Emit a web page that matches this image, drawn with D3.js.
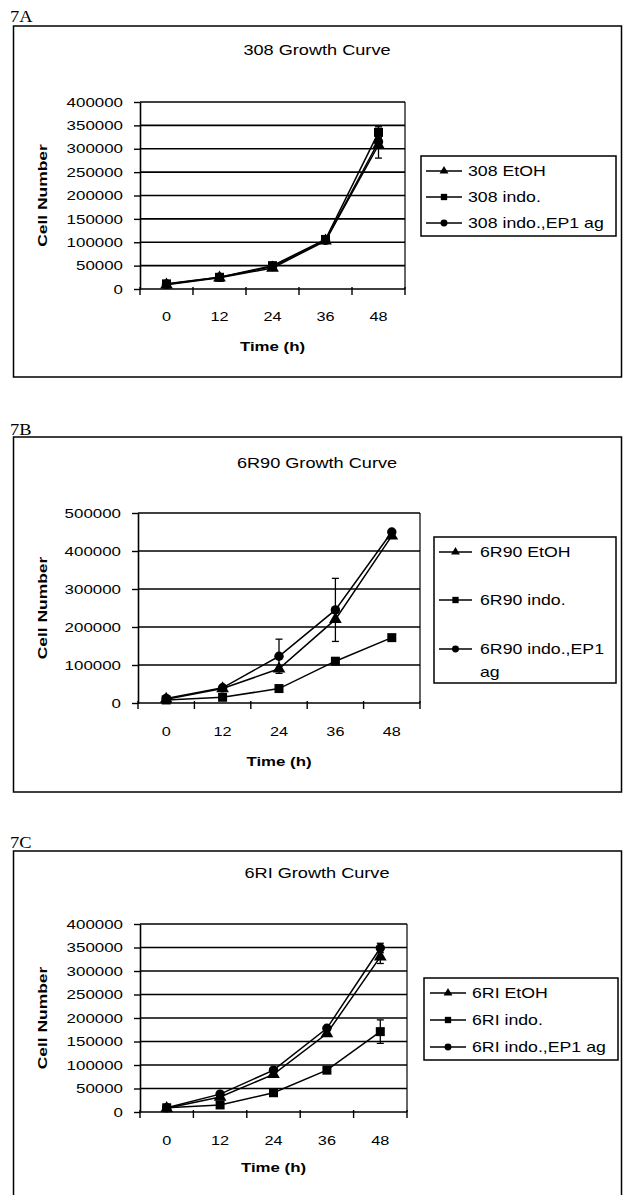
<!DOCTYPE html>
<html>
<head>
<meta charset="utf-8">
<script src="https://cdn.jsdelivr.net/npm/d3@7"></script>
<style>
  body { margin: 0; background: #fff; }
  svg { display: block; }
  text { font-family: "Liberation Sans", Arial, sans-serif; fill: #000; }
</style>
</head>
<body>
<div id="figure"></div>
<script>
// x categories (hours)
const hours = ["0", "12", "24", "36", "48"]

// 7A - 308 cells
const etoh308 = [9000, 24000, 45000, 103000, 308000]
const etoh308Err = [null, null, null, null, 28000]
const indo308 = [11000, 25000, 50000, 106000, 335000]
const indo308Err = [null, null, null, null, 12000]
const ep1308 = [10000, 25000, 48000, 104000, 315000]
const ep1308Err = [null, null, null, null, 10000]

// 7B - 6R90 cells
const etoh6R90 = [10000, 38000, 90000, 220000, 440000]
const etoh6R90Err = [null, null, null, null, null]
const indo6R90 = [8000, 15000, 38000, 110000, 172000]
const indo6R90Err = [null, null, null, null, null]
const ep16R90 = [12000, 40000, 123000, 245000, 450000]
const ep16R90Err = [null, null, 45000, 83000, null]

// 7C - 6RI cells
const etoh6RI = [8000, 32000, 80000, 167000, 330000]
const etoh6RIErr = [null, null, null, null, 14000]
const indo6RI = [9000, 15000, 41000, 89000, 171000]
const indo6RIErr = [null, null, null, null, 25000]
const ep16RI = [9000, 38000, 89000, 178000, 349000]
const ep16RIErr = [null, null, null, null, 10000]

// y axis ticks for each panel
const ticksA = [0, 50000, 100000, 150000, 200000, 250000, 300000, 350000, 400000]
const ticksB = [0, 100000, 200000, 300000, 400000, 500000]
const ticksC = [0, 50000, 100000, 150000, 200000, 250000, 300000, 350000, 400000]

const svg = d3.select("#figure").append("svg")
   .attr("width", 624)
   .attr("height", 1195)

// stretch text horizontally like the scanned figure
function widen(sel, k) {
   sel.each(function () {
      let w = this.getComputedTextLength()
      d3.select(this).attr("textLength", w * k).attr("lengthAdjust", "spacingAndGlyphs")
   })
}

const shapes = [d3.symbolTriangle, d3.symbolSquare, d3.symbolCircle]
const markerSize = [70, 81, 70]
const legendSize = [34, 40, 38]

function drawPanel(p) {

   let g = svg.append("g")

   // panel letter
   let lab = g.append("text")
      .attr("x", 10).attr("y", p.labelY)
      .style("font-family", "'Liberation Serif', 'Times New Roman', serif")
      .style("font-size", "16px")
      .text(p.label)
   widen(lab, 1.15)

   // outer frame
   g.append("rect")
      .attr("x", 13.5).attr("y", p.frameY)
      .attr("width", 608).attr("height", p.frameH)
      .attr("fill", "none").attr("stroke", "#000").attr("stroke-width", 1.5)

   // title
   let title = g.append("text")
      .attr("x", 317).attr("y", p.titleY)
      .attr("text-anchor", "middle")
      .style("font-size", "14.5px")
      .text(p.title)
   widen(title, 1.25)

   let x = d3.scaleBand().domain(hours).range([p.left, p.right])
   let y = d3.scaleLinear().domain([0, p.ticks[p.ticks.length - 1]]).range([p.bottom, p.top])
   let bw = x.bandwidth()
   let cx = function (i) { return x(hours[i]) + bw / 2 }

   // gridlines
   g.selectAll("line.grid").data(p.ticks.slice(1))
      .join("line")
      .attr("class", "grid")
      .attr("x1", p.left).attr("x2", p.right)
      .attr("y1", d => y(d)).attr("y2", d => y(d))
      .attr("stroke", "#000").attr("stroke-width", 1.6)

   // plot area border (right side)
   g.append("line")
      .attr("x1", p.right).attr("x2", p.right)
      .attr("y1", p.top).attr("y2", p.bottom)
      .attr("stroke", "#000").attr("stroke-width", 1.2)

   // y axis
   let yAxis = d3.axisLeft(y)
      .tickValues(p.ticks)
      .tickFormat(d => String(d))
      .tickSizeInner(6)
      .tickSizeOuter(0)
      .tickPadding(11)

   let yg = g.append("g")
      .attr("transform", "translate(" + p.left + ",0)")
      .call(yAxis)
   yg.selectAll("path.domain").attr("stroke-width", 1.6)
   yg.selectAll("line").attr("stroke-width", 1.4)
   yg.selectAll("text")
      .attr("font-family", null)
      .attr("font-size", null)
      .style("font-size", "13px")
   widen(yg.selectAll("text"), 1.3)

   // x axis
   g.append("line")
      .attr("x1", p.left).attr("x2", p.right)
      .attr("y1", p.bottom).attr("y2", p.bottom)
      .attr("stroke", "#000").attr("stroke-width", 1.6)

   g.selectAll("line.xtick").data(d3.range(hours.length + 1))
      .join("line")
      .attr("class", "xtick")
      .attr("x1", d => p.left + d * bw).attr("x2", d => p.left + d * bw)
      .attr("y1", p.bottom - 2).attr("y2", p.bottom + 6)
      .attr("stroke", "#000").attr("stroke-width", 1.4)

   let xLabels = g.selectAll("text.xlab").data(hours)
      .join("text")
      .attr("class", "xlab")
      .attr("x", d => x(d) + bw / 2)
      .attr("y", p.xLabelY)
      .attr("text-anchor", "middle")
      .style("font-size", "13px")
      .text(d => d)
   widen(xLabels, 1.25)

   // axis titles
   let tx = g.append("text")
      .attr("x", (p.left + p.right) / 2).attr("y", p.timeY)
      .attr("text-anchor", "middle")
      .style("font-size", "12px").style("font-weight", "bold")
      .text("Time (h)")
   widen(tx, 1.4)

   let ty = g.append("text")
      .attr("transform", "translate(47," + (p.top + p.bottom) / 2 + ") rotate(-90)")
      .attr("text-anchor", "middle")
      .style("font-size", "12px").style("font-weight", "bold")
      .text("Cell Number")
   widen(ty, 1.45)

   let line = d3.line()
      .x((d, i) => cx(i))
      .y(d => y(d))

   // series lines
   p.series.forEach(s => {
      g.append("path")
         .datum(s.values)
         .attr("d", line)
         .attr("fill", "none")
         .attr("stroke", "#000")
         .attr("stroke-width", 1.5)
   })

   // error bars
   p.series.forEach(s => {
      s.errors.forEach((e, i) => {
         if (e === null) return
         let v = s.values[i]
         let eb = g.append("g").attr("stroke", "#000").attr("stroke-width", 1.3)
         eb.append("line")
            .attr("x1", cx(i)).attr("x2", cx(i))
            .attr("y1", y(v - e)).attr("y2", y(v + e))
         eb.append("line")
            .attr("x1", cx(i) - 3.5).attr("x2", cx(i) + 3.5)
            .attr("y1", y(v - e)).attr("y2", y(v - e))
         eb.append("line")
            .attr("x1", cx(i) - 3.5).attr("x2", cx(i) + 3.5)
            .attr("y1", y(v + e)).attr("y2", y(v + e))
      })
   })

   // markers
   p.series.forEach((s, k) => {
      g.selectAll("path.m" + k).data(s.values)
         .join("path")
         .attr("class", "m" + k)
         .attr("transform", (d, i) => "translate(" + cx(i) + "," + y(d) + ")")
         .attr("d", d3.symbol().type(shapes[k]).size(markerSize[k]))
         .attr("fill", "#000")
   })

   // legend
   let lg = p.legend
   g.append("rect")
      .attr("x", lg.x).attr("y", lg.y)
      .attr("width", lg.w).attr("height", lg.h)
      .attr("fill", "#fff").attr("stroke", "#000").attr("stroke-width", 1.5)

   p.series.forEach((s, k) => {
      let ry = lg.rows[k]
      g.append("line")
         .attr("x1", lg.lineX[0]).attr("x2", lg.lineX[1])
         .attr("y1", ry).attr("y2", ry)
         .attr("stroke", "#000").attr("stroke-width", 1.4)
      g.append("path")
         .attr("transform", "translate(" + (lg.lineX[0] + lg.lineX[1]) / 2 + "," + ry + ")")
         .attr("d", d3.symbol().type(shapes[k]).size(legendSize[k]))
         .attr("fill", "#000")
      let lines = s.name.split("\n")
      lines.forEach((t, j) => {
         let lt = g.append("text")
            .attr("x", lg.textX).attr("y", ry + 5.4 + j * 23)
            .style("font-size", "15px")
            .text(t)
         widen(lt, 1.18)
      })
   })
}

drawPanel({
   label: "7A", labelY: 22, frameY: 26, frameH: 351,
   title: "308 Growth Curve", titleY: 55,
   left: 140, right: 405, top: 102, bottom: 289,
   ticks: ticksA, xLabelY: 321, timeY: 351,
   series: [
      { name: "308 EtOH", values: etoh308, errors: etoh308Err },
      { name: "308 indo.", values: indo308, errors: indo308Err },
      { name: "308 indo.,EP1 ag", values: ep1308, errors: ep1308Err }
   ],
   legend: { x: 421, y: 156, w: 195, h: 80, rows: [171, 197, 223], lineX: [426, 462], textX: 468 }
})

drawPanel({
   label: "7B", labelY: 435, frameY: 437, frameH: 355,
   title: "6R90 Growth Curve", titleY: 468,
   left: 138, right: 420, top: 513, bottom: 703,
   ticks: ticksB, xLabelY: 736, timeY: 766,
   series: [
      { name: "6R90 EtOH", values: etoh6R90, errors: etoh6R90Err },
      { name: "6R90 indo.", values: indo6R90, errors: indo6R90Err },
      { name: "6R90 indo.,EP1\nag", values: ep16R90, errors: ep16R90Err }
   ],
   legend: { x: 434, y: 537, w: 182, h: 146, rows: [552, 600, 649], lineX: [439, 472], textX: 480 }
})

drawPanel({
   label: "7C", labelY: 848, frameY: 851, frameH: 400,
   title: "6RI Growth Curve", titleY: 878,
   left: 140, right: 407, top: 924, bottom: 1112,
   ticks: ticksC, xLabelY: 1145, timeY: 1172,
   series: [
      { name: "6RI EtOH", values: etoh6RI, errors: etoh6RIErr },
      { name: "6RI indo.", values: indo6RI, errors: indo6RIErr },
      { name: "6RI indo.,EP1 ag", values: ep16RI, errors: ep16RIErr }
   ],
   legend: { x: 424, y: 978, w: 194, h: 82, rows: [993, 1020, 1047], lineX: [430, 466], textX: 472 }
})
</script>
</body>
</html>
